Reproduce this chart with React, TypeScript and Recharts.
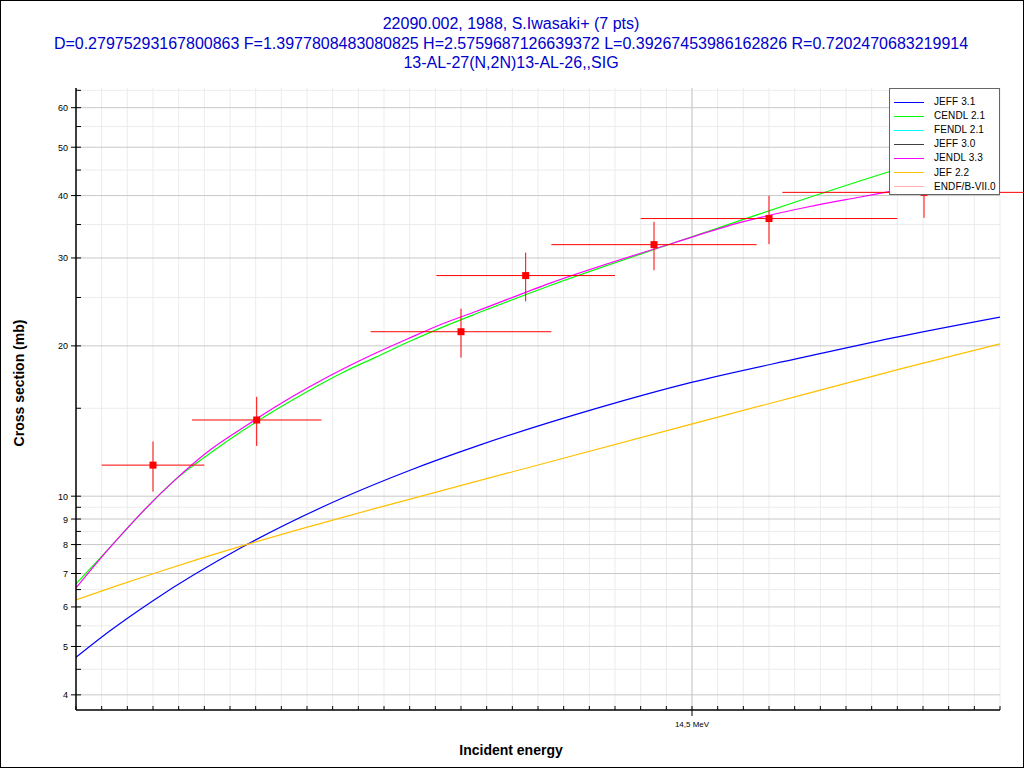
import React from 'react';
import { ComposedChart, Line, Scatter, XAxis, YAxis, CartesianGrid, ErrorBar } from 'recharts';

// ---- data ----
const titleLines = [
  '22090.002, 1988, S.Iwasaki+ (7 pts)',
  'D=0.27975293167800863 F=1.3977808483080825 H=2.5759687126639372 L=0.39267453986162826 R=0.7202470683219914',
  '13-AL-27(N,2N)13-AL-26,,SIG',
];
const yAxisTitle = 'Cross section (mb)';
const xAxisTitle = 'Incident energy';

const xDomain = [13.9, 14.8];
const yDomain = [3.73, 65.7];

const xMinorTicks = [
  13.9, 13.925, 13.95, 13.975, 14.0, 14.025, 14.05, 14.075, 14.1, 14.125, 14.15, 14.175,
  14.2, 14.225, 14.25, 14.275, 14.3, 14.325, 14.35, 14.375, 14.4, 14.425, 14.45, 14.475,
  14.5, 14.525, 14.55, 14.575, 14.6, 14.625, 14.65, 14.675, 14.7, 14.725, 14.75, 14.775, 14.8,
];
const xMajorTicks = [14.5];
const xMajorLabels = ['14,5 MeV'];

const yMajorTicks = [4, 5, 6, 7, 8, 9, 10, 20, 30, 40, 50, 60];
const yMinorTicks = [4.5, 5.5, 6.5, 7.5, 8.5, 9.5, 15, 25, 35, 45, 55, 65];

// Experimental points (EXFOR 22090.002)
const expEnergy = [13.975, 14.076, 14.275, 14.338, 14.463, 14.575, 14.726];
const expSigma = [11.54, 14.21, 21.35, 27.66, 31.9, 35.98, 40.6];
const expEnergyErr = [0.05, 0.063, 0.088, 0.087, 0.1, 0.125, 0.138];
const expSigmaErr = [1.33, 1.6, 2.4, 3.1, 3.55, 4.0, 4.5];

// Evaluations
const jeff31E = [13.9, 13.9325, 13.975, 14.0625, 14.16, 14.2248, 14.2895, 14.4103, 14.4984, 14.6057, 14.7031, 14.8];
const jeff31V = [4.757, 5.364, 6.177, 7.917, 9.926, 11.26, 12.58, 15.06, 16.88, 18.92, 20.9, 22.84];

const cendl21E = [13.9, 13.9325, 13.965, 13.9965, 14.0299, 14.0622, 14.0947, 14.1271, 14.1599, 14.1921, 14.2246, 14.2571, 14.2895, 14.362, 14.4819, 14.5472, 14.6125, 14.6641, 14.6934, 14.8];
const cendl21V = [6.672, 7.868, 9.315, 10.78, 12.16, 13.52, 14.89, 16.28, 17.69, 18.99, 20.41, 21.81, 23.19, 26.43, 32.14, 35.67, 39.56, 42.84, 44.76, 52.73];

const jendl33E = [13.9, 13.9325, 13.965, 13.9965, 14.0299, 14.0622, 14.0947, 14.1271, 14.1599, 14.1921, 14.2246, 14.2571, 14.2895, 14.362, 14.4819, 14.5472, 14.6125, 14.6641, 14.6934, 14.8];
const jendl33V = [6.55, 7.868, 9.315, 10.78, 12.34, 13.69, 15.12, 16.54, 17.97, 19.35, 20.73, 22.15, 23.44, 26.72, 32.14, 35.34, 37.95, 39.74, 40.78, 45.07];

const jef22E = [13.9, 13.938, 13.975, 14.0209, 14.0625, 14.1183, 14.1963, 14.5004, 14.6057, 14.7031, 14.8];
const jef22V = [6.197, 6.596, 6.994, 7.495, 7.958, 8.591, 9.51, 13.96, 15.92, 17.99, 20.19];

const legendNames = ['JEFF 3.1', 'CENDL 2.1', 'FENDL 2.1', 'JEFF 3.0', 'JENDL 3.3', 'JEF 2.2', 'ENDF/B-VII.0'];
const legendColors = ['#0000ff', '#00ff00', '#00ffff', '#404040', '#ff00ff', '#ffc000', '#ffb0b0'];

// ---- build tables ----
const toRows = (es: number[], vs: number[]) => es.map((e, i) => ({ e, v: vs[i] }));
const expRows = expEnergy.map((e, i) => ({ e, v: expSigma[i], ex: expEnergyErr[i], ey: expSigmaErr[i] }));

const series = [
  { name: 'JEFF 3.1', color: legendColors[0], rows: toRows(jeff31E, jeff31V), kind: 'monotone' },
  { name: 'CENDL 2.1', color: legendColors[1], rows: toRows(cendl21E, cendl21V), kind: 'monotone' },
  { name: 'JENDL 3.3', color: legendColors[4], rows: toRows(jendl33E, jendl33V), kind: 'monotone' },
  { name: 'JEF 2.2', color: legendColors[5], rows: toRows(jef22E, jef22V), kind: 'linear' },
];

const FONT = "'Liberation Sans', Arial, sans-serif";

const YTick = (props: any) => {
  const { x, y, payload } = props;
  const v = payload.value;
  const major = yMajorTicks.includes(v);
  return (
    <g>
      <line x1={major ? x - 5 : x} x2={x + 5} y1={y} y2={y} stroke="#000" strokeWidth={1} />
      {major && (
        <text x={x - 8} y={y} dy={3.5} textAnchor="end" fontSize={9} fontFamily={FONT} fill="#000">
          {v}
        </text>
      )}
    </g>
  );
};

const XTick = (props: any) => {
  const { x, y, payload } = props;
  const v = payload.value;
  const idx = xMajorTicks.indexOf(v);
  const major = idx >= 0;
  return (
    <g>
      <line x1={x} x2={x} y1={y - 4} y2={major ? y + 6 : y} stroke="#000" strokeWidth={1} />
      {major && (
        <text x={x} y={y + 17} textAnchor="middle" fontSize={8} fontFamily={FONT} fill="#000">
          {xMajorLabels[idx]}
        </text>
      )}
    </g>
  );
};

const Square = (props: any) => {
  const { cx, cy } = props;
  return <rect x={cx - 3.5} y={cy - 3.5} width={7} height={7} fill="#ff0000" />;
};

export default function App() {
  return (
    <div
      style={{
        position: 'absolute',
        left: 0,
        top: 0,
        width: 1024,
        height: 768,
        background: '#fff',
        outline: '1px solid #000',
        outlineOffset: -1,
        fontFamily: FONT,
      }}
    >
      {titleLines.map((t, i) => (
        <div
          key={i}
          style={{
            position: 'absolute',
            left: 0,
            width: 1022,
            top: [14, 34, 53][i],
            lineHeight: '20px',
            fontSize: 16,
            textAlign: 'center',
            color: '#0000cc',
            whiteSpace: 'nowrap',
          }}
        >
          {t}
        </div>
      ))}
      <ComposedChart
        width={1024}
        height={768}
        margin={{ top: 88, right: 24, bottom: 28, left: 0 }}
        style={{ position: 'absolute', left: 0, top: 0 }}
      >
        <CartesianGrid
          stroke="#ececec"
          strokeWidth={1}
          horizontalValues={yMinorTicks}
          verticalValues={xMinorTicks}
        />
        <CartesianGrid
          stroke="#c8c8c8"
          strokeWidth={1}
          horizontalValues={yMajorTicks}
          verticalValues={xMajorTicks}
        />
        <XAxis
          type="number"
          dataKey="e"
          domain={xDomain}
          allowDataOverflow
          ticks={xMinorTicks}
          interval={0}
          height={30}
          tickSize={0}
          tickMargin={0}
          tickLine={false}
          tick={<XTick />}
          axisLine={{ stroke: '#000', strokeWidth: 1.5 }}
        />
        <XAxis
          xAxisId="top"
          orientation="top"
          type="number"
          dataKey="e"
          domain={xDomain}
          allowDataOverflow
          height={0}
          tick={false}
          tickLine={false}
          axisLine={{ stroke: '#000', strokeWidth: 1.5 }}
        />
        <YAxis
          type="number"
          dataKey="v"
          scale="log"
          domain={yDomain}
          allowDataOverflow
          ticks={[...yMajorTicks, ...yMinorTicks]}
          interval={0}
          width={76}
          tickSize={0}
          tickMargin={0}
          tickLine={false}
          tick={<YTick />}
          axisLine={{ stroke: '#000', strokeWidth: 1.5 }}
        />
        <YAxis
          yAxisId="right"
          orientation="right"
          type="number"
          dataKey="v"
          scale="log"
          domain={yDomain}
          allowDataOverflow
          width={0}
          tick={false}
          tickLine={false}
          axisLine={{ stroke: '#000', strokeWidth: 1.5 }}
        />
        {series.map((s) => (
          <Line
            key={s.name}
            data={s.rows}
            dataKey="v"
            type={s.kind as any}
            stroke={s.color}
            strokeWidth={1.2}
            dot={false}
            activeDot={false}
            isAnimationActive={false}
          />
        ))}
        <Scatter data={expRows} dataKey="v" shape={<Square />} isAnimationActive={false}>
          <ErrorBar dataKey="ex" direction="x" width={0} stroke="#ff0000" strokeWidth={1} isAnimationActive={false} />
          <ErrorBar dataKey="ey" direction="y" width={0} stroke="#ff0000" strokeWidth={1} isAnimationActive={false} />
        </Scatter>
      </ComposedChart>

      <div
        style={{
          position: 'absolute',
          left: 19,
          top: 383,
          transform: 'translate(-50%, -50%) rotate(-90deg)',
          fontSize: 14,
          fontWeight: 'bold',
          whiteSpace: 'nowrap',
          color: '#000',
        }}
      >
        {yAxisTitle}
      </div>
      <div
        style={{
          position: 'absolute',
          left: 511,
          top: 750,
          transform: 'translate(-50%, -50%)',
          fontSize: 14,
          fontWeight: 'bold',
          whiteSpace: 'nowrap',
          color: '#000',
        }}
      >
        {xAxisTitle}
      </div>

      <div
        style={{
          position: 'absolute',
          left: 889,
          top: 88,
          width: 111,
          height: 107,
          boxSizing: 'border-box',
          background: '#fff',
          border: '1px solid #666',
          paddingTop: 6,
        }}
      >
        {legendNames.map((n, i) => (
          <div key={n} style={{ display: 'flex', alignItems: 'center', height: 14.1 }}>
            <div style={{ marginLeft: 4, width: 30, height: 1, background: legendColors[i], flex: 'none' }} />
            <div
              style={{
                marginLeft: 10,
                fontSize: 10,
                letterSpacing: 0.1,
                color: '#000',
                lineHeight: '14px',
                whiteSpace: 'nowrap',
              }}
            >
              {n}
            </div>
          </div>
        ))}
      </div>
    </div>
  );
}
